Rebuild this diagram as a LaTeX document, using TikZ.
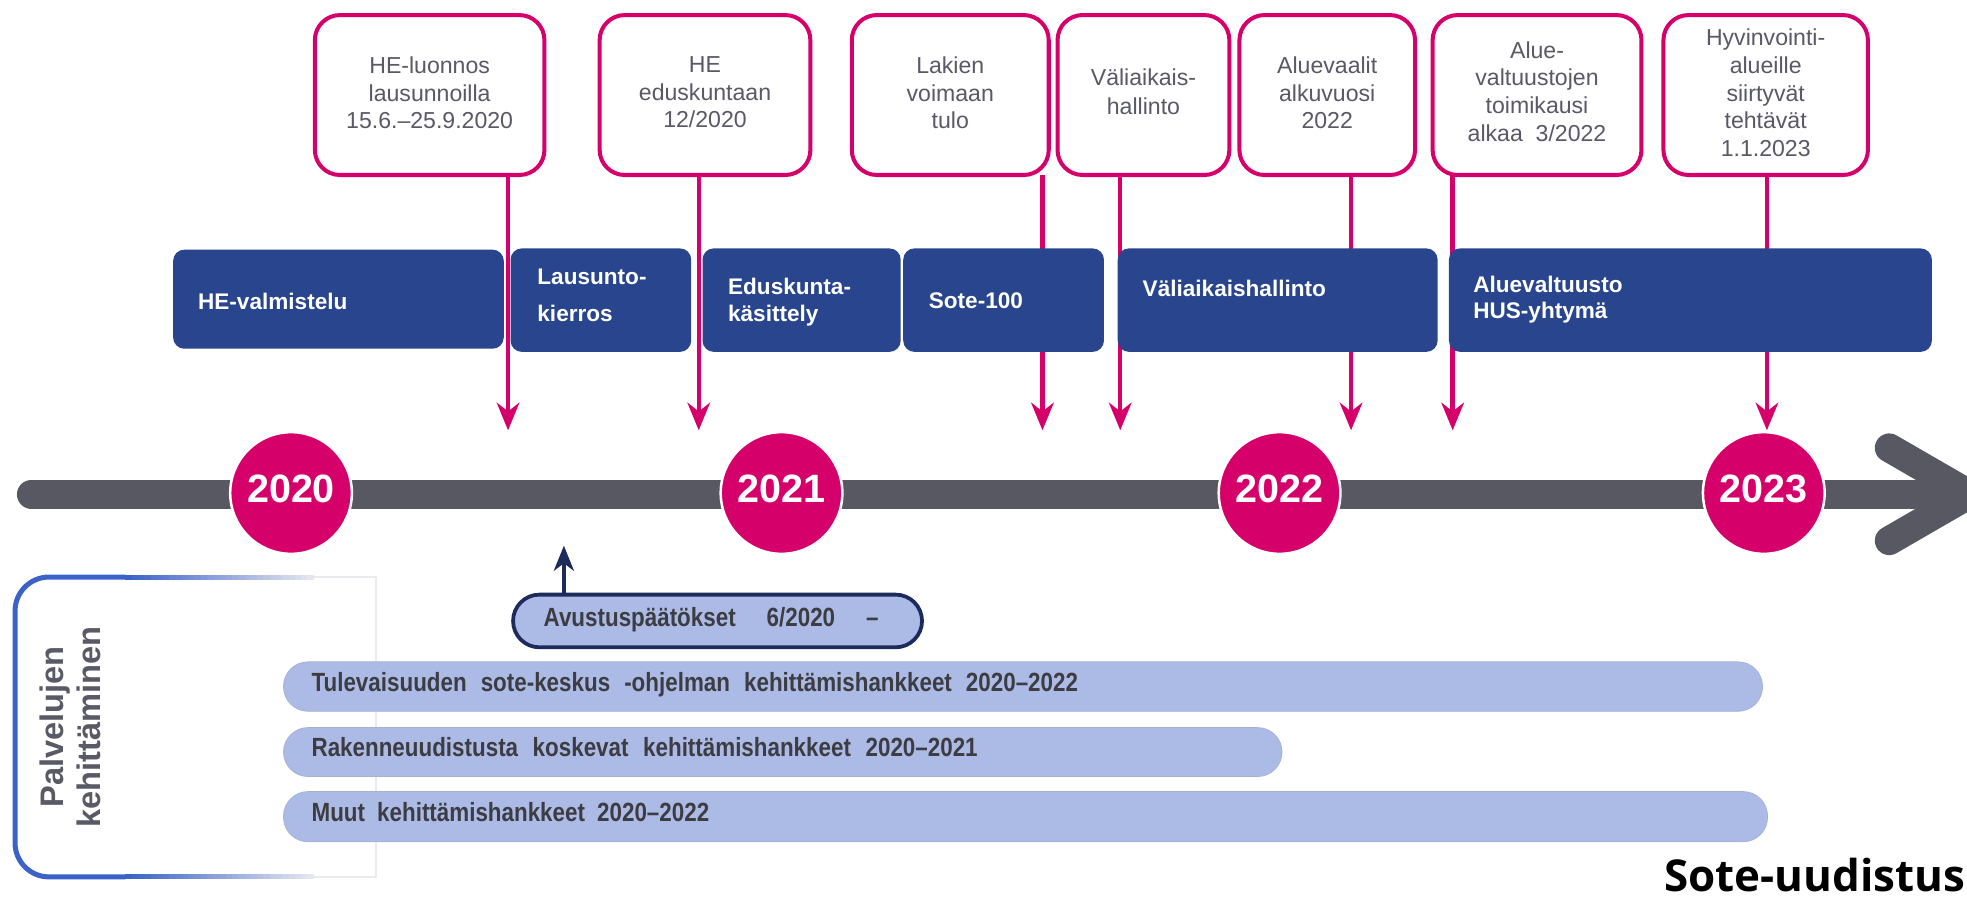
\documentclass[tikz,border=0pt]{standalone}
\usepackage{fontspec}
\setmainfont{Liberation Sans}
\newfontfamily\narrowfam{Liberation Sans}[FakeStretch=0.85]
\newfontfamily\logofam{Open Sans}
\usetikzlibrary{arrows.meta}
\definecolor{pinkc}{RGB}{214,0,106}
\definecolor{barblue}{RGB}{40,69,141}
\definecolor{tlgray}{RGB}{88,88,98}
\definecolor{lightbar}{RGB}{172,187,230}
\definecolor{navyc}{RGB}{28,43,92}
\definecolor{boxtext}{RGB}{89,89,104}
\definecolor{bartext}{RGB}{60,60,66}
\definecolor{labgray}{RGB}{90,90,102}
\definecolor{labblue}{RGB}{58,98,200}
\definecolor{faint}{RGB}{234,234,240}
\begin{document}
\begin{tikzpicture}[x=0.5pt,y=-0.5pt,
  topbox/.style={draw=pinkc, line width=1.6pt, fill=white, rounded corners=10pt, inner sep=0pt, outer sep=0pt, minimum height=63.75pt},
  tbtext/.style={anchor=north, align=center, inner sep=0pt, text=boxtext, font=\fontsize{9.2}{11}\selectfont},
  bluebar/.style={fill=barblue, rounded corners=4.5pt, inner sep=0pt, outer sep=0pt},
  bartxt/.style={anchor=north west, align=left, inner sep=0pt, text=white, font=\bfseries\fontsize{9}{11}\selectfont},
  pinkarrow/.style={draw=pinkc, line width=1.75pt, -{Stealth[length=11pt,width=9pt,inset=3.5pt]}},
  navyarrow/.style={draw=navyc, line width=1.5pt, -{Stealth[length=10pt,width=8pt,inset=3pt]}},
  yearc/.style={circle, fill=pinkc, draw=white, line width=1pt, minimum size=48.5pt, inner sep=0pt, text=white, font=\bfseries\fontsize{15.75}{18}\selectfont, text height=11.3pt, text depth=4pt},
  lowbar/.style={fill=lightbar, draw=lightbar!85!gray, line width=0.3pt, rounded corners=9.75pt, inner sep=0pt, outer sep=0pt},
  lowtxt/.style={anchor=base west, inner sep=0pt, text=bartext, font=\narrowfam\bfseries\fontsize{10.5}{12}\selectfont},
  timeline/.style={draw=tlgray, line width=11.5pt, line cap=round, line join=round}
]
\useasboundingbox (0,0) rectangle (1568,717);
\clip (0,0) rectangle (1568,717);

% top milestone boxes
\node[topbox, minimum width=91.5pt] (b1) at (342.5,75.75) {};
\node[topbox, minimum width=84pt] (b2) at (562,75.75) {};
\node[topbox, minimum width=78.5pt] (b3) at (757.5,75.75) {};
\node[topbox, minimum width=68.5pt] (b4) at (911.5,75.75) {};
\node[topbox, minimum width=70pt] (b5) at (1058,75.75) {};
\node[topbox, minimum width=83.25pt] (b6) at (1225.25,75.75) {};
\node[topbox, minimum width=81.5pt] (b7) at (1407.5,75.75) {};

\node[tbtext] (t1) at (342.5,44.8) {HE-luonnos\\lausunnoilla\\15.6.–25.9.2020};
\node[tbtext] (t2) at (562,44.8) {HE\\eduskuntaan\\12/2020};
\node[tbtext] (t3) at (757.5,44.8) {Lakien\\voimaan\\tulo};
\node[tbtext, font=\fontsize{9.2}{11.5}\selectfont] (t4) at (911.5,54.8) {Väliaikais-\\hallinto};
\node[tbtext] (t5) at (1058,44.8) {Aluevaalit\\alkuvuosi\\2022};
\node[tbtext] (t6) at (1225.25,32.8) {Alue-\\valtuustojen\\toimikausi\\alkaa~ 3/2022};
\node[tbtext] (t7) at (1407.5,22.8) {Hyvinvointi-\\alueille\\siirtyvät\\tehtävät\\1.1.2023};

% pink arrows
\coordinate (a1) at (405,343);
\coordinate (a2) at (557,343);
\coordinate (a3) at (831,343);
\coordinate (a4) at (893,343);
\coordinate (a5) at (1077,343);
\coordinate (a6) at (1158,343);
\coordinate (a7) at (1408.5,343);
\draw[pinkarrow] (b1.south -| a1) -- (a1);
\draw[pinkarrow] (b2.south -| a2) -- (a2);
\draw[pinkarrow] (b3.south -| a3) -- (a3);
\draw[pinkarrow] (b4.south -| a4) -- (a4);
\draw[pinkarrow] (b5.south -| a5) -- (a5);
\draw[pinkarrow] (b6.south -| a6) -- (a6);
\draw[pinkarrow] (b7.south -| a7) -- (a7);

% blue phase bars
\node[bluebar, minimum width=131.8pt, minimum height=39.5pt] (p1) at (269.8,238.5) {};
\node[bluebar, minimum width=72pt, minimum height=41.25pt] (p2) at (479,239.25) {};
\node[bluebar, minimum width=79pt, minimum height=41.25pt] (p3) at (639,239.25) {};
\node[bluebar, minimum width=80pt, minimum height=41.25pt] (p4) at (800,239.25) {};
\node[bluebar, minimum width=127.5pt, minimum height=41.25pt] (p5) at (1018.5,239.25) {};
\node[bluebar, minimum width=192.5pt, minimum height=41.25pt] (p6) at (1347.5,239.25) {};

\node[bartxt] (q1) at (157.5,233.6) {HE-valmistelu};
\node[bartxt, font=\bfseries\fontsize{9}{14.5}\selectfont] (q2) at (428,214.1) {Lausunto-\\kierros};
\node[bartxt] (q3) at (580,221.1) {Eduskunta-\\käsittely};
\node[bartxt] (q4) at (740,232.6) {Sote-100};
\node[bartxt] (q5) at (910.5,223.1) {Väliaikaishallinto};
\node[bartxt, font=\bfseries\fontsize{9}{10.5}\selectfont] (q6) at (1174,219.6) {Aluevaltuusto\\HUS-yhtymä};

% timeline
\draw[timeline] (25,394) -- (1560,394);
\draw[timeline] (1506,357) -- (1570,394) -- (1506,431);

\node[yearc] (y2020) at (232,393) {2020};
\node[yearc] (y2021) at (623,393) {2021};
\node[yearc] (y2022) at (1020,393) {2022};
\node[yearc] (y2023) at (1406,393) {2023};

% services development frame
\draw[faint, line width=0.8pt] (100,460) -- (300,460) -- (300,699) -- (100,699);
\draw[labblue, line width=2pt, rounded corners=13.5pt] (100,460) -- (12,460) -- (12,699) -- (100,699);
\foreach \i [evaluate=\i as \p using {int(100-\i*100/30)}] in {0,...,29}{
  \draw[labblue!\p!faint, line width=2pt] (100+\i*5,460) -- (105+\i*5,460);
  \draw[labblue!\p!faint, line width=2pt] (100+\i*5,699) -- (105+\i*5,699);
}
\node[rotate=90, align=center, inner sep=0pt, text=labgray, font=\bfseries\fontsize{13}{14.75}\selectfont] (lab) at (56,579.5) {Palvelujen\\kehittäminen};

% grant decisions
\node[lowbar, draw=navyc, line width=1.5pt, minimum width=163pt, minimum height=21pt, rounded corners=10.5pt] (avus) at (572,495) {};
\node[lowtxt] (avust) at (433,499.5) {\makebox[133.5pt][s]{Avustuspäätökset 6/2020 –}};
\coordinate (avtip) at (449.5,435);
\draw[navyarrow] (avus.north -| avtip) -- (avtip);

% development project bars
\node[lowbar, minimum width=589.5pt, minimum height=19.7pt] (d1) at (815.5,547.3) {};
\node[lowbar, minimum width=398pt, minimum height=19.5pt] (d2) at (624,599.5) {};
\node[lowbar, minimum width=591.5pt, minimum height=20pt] (d3) at (817.5,651) {};
\node[lowtxt] (e1) at (248,551.6) {\makebox[305.5pt][s]{Tulevaisuuden sote-keskus -ohjelman kehittämishankkeet 2020–2022}};
\node[lowtxt] (e2) at (248,603.4) {\makebox[265.5pt][s]{Rakenneuudistusta koskevat kehittämishankkeet 2020–2021}};
\node[lowtxt] (e3) at (248,655) {\makebox[158.5pt][s]{Muut kehittämishankkeet 2020–2022}};

% logo text
\node[anchor=base east, inner sep=0pt, text=black, font=\logofam\bfseries\fontsize{17.5}{20}\selectfont] (logo) at (1567,711) {Sote-uudistus};
\end{tikzpicture}
\end{document}
